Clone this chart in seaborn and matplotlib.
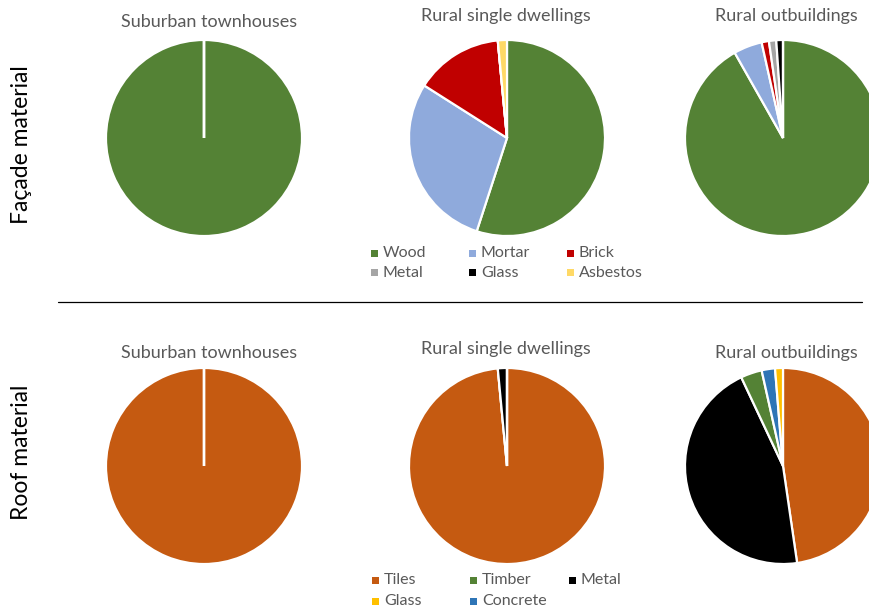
import matplotlib
matplotlib.use("Agg")
import matplotlib.pyplot as plt
from matplotlib.patches import Rectangle
import seaborn as sns

sns.set_theme(style="white")
plt.rcParams["font.family"] = ["Lato", "DejaVu Sans"]

# Façade material shares (%)
facade_labels = ["Wood", "Mortar", "Brick", "Metal", "Glass", "Asbestos"]
facade_colors = ["#548235", "#8FAADC", "#C00000", "#A5A5A5", "#000000", "#FFD966"]
facade_suburban = [100, 0, 0, 0, 0, 0]
facade_rural_single = [55.0, 29.0, 14.5, 0, 0, 1.5]
facade_rural_out = [91.8, 4.7, 1.2, 1.2, 1.1, 0]

# Roof material shares (%)
roof_labels = ["Tiles", "Timber", "Metal", "Glass", "Concrete"]
roof_colors = ["#C55A11", "#548235", "#000000", "#FFC000", "#2E75B6"]
roof_suburban = [100, 0, 0, 0, 0]
roof_rural_single = [98.5, 0, 1.5, 0, 0]
roof_rural_out = [47.7, 3.5, 45.3, 1.3, 2.2]
# wedge drawing order clockwise for the outbuildings roof pie
roof_out_order = ["Tiles", "Metal", "Timber", "Concrete", "Glass"]

group_titles = ["Suburban townhouses", "Rural single dwellings", "Rural outbuildings"]
row_titles = ["Façade material", "Roof material"]

W, H = 869, 612
fig = plt.figure(figsize=(W / 100, H / 100), dpi=100)

R = 99
col_x = [204, 507, 783]
row_y = [138, 466]
title_y = [[22, 16, 16], [353, 349, 353]]
title_x = [209, 506, 786]
gray = "#595959"


def pie_at(cx, cy, values, colors):
    ax = fig.add_axes([(cx - R) / W, 1 - (cy + R) / H, 2 * R / W, 2 * R / H])
    ax.pie(values, colors=colors, startangle=90, counterclock=False,
           radius=1, normalize=True,
           wedgeprops=dict(edgecolor="white", linewidth=1.6))
    ax.set_xlim(-1.01, 1.01)
    ax.set_ylim(-1.01, 1.01)
    ax.set_axis_off()
    return ax


# Row 1: façade
for j, vals in enumerate([facade_suburban, facade_rural_single, facade_rural_out]):
    pie_at(col_x[j], row_y[0], vals, facade_colors)

# Row 2: roof
cmap_roof = dict(zip(roof_labels, roof_colors))
pie_at(col_x[0], row_y[1], roof_suburban, roof_colors)
pie_at(col_x[1], row_y[1], roof_rural_single, roof_colors)
out_vals = dict(zip(roof_labels, roof_rural_out))
pie_at(col_x[2], row_y[1], [out_vals[k] for k in roof_out_order],
       [cmap_roof[k] for k in roof_out_order])

# Group titles
for i in range(2):
    for j in range(3):
        fig.text(title_x[j] / W, 1 - title_y[i][j] / H, group_titles[j],
                 ha="center", va="center", fontsize=13, color=gray)

# Row titles
fig.text(22 / W, 1 - 145 / H, row_titles[0], rotation=90, ha="center",
         va="center", fontsize=16.5, color="black")
fig.text(22 / W, 1 - 452 / H, row_titles[1], rotation=90, ha="center",
         va="center", fontsize=16.5, color="black")

# Separator line between the rows
fig.add_artist(plt.Line2D([58 / W, 862 / W], [1 - 302 / H, 1 - 302 / H],
                          color="black", linewidth=0.9))


def legend_grid(labels, colors, marker_x, row_centers):
    """Square swatches with labels on a fixed 3-column grid."""
    s = 7
    for k, (lab, col) in enumerate(zip(labels, colors)):
        r, c = divmod(k, 3)
        x, y = marker_x[c], row_centers[r]
        fig.add_artist(Rectangle((x / W, 1 - (y + s / 2) / H), s / W, s / H,
                                 transform=fig.transFigure, facecolor=col,
                                 edgecolor="none"))
        fig.text((x + 12) / W, 1 - y / H, lab, ha="left", va="center",
                 fontsize=11.5, color=gray)


legend_grid(facade_labels, facade_colors, [371, 469, 567], [253, 273])
legend_grid(roof_labels, roof_colors, [372, 470, 569], [580, 601])

fig.savefig("out.png", dpi=100)
